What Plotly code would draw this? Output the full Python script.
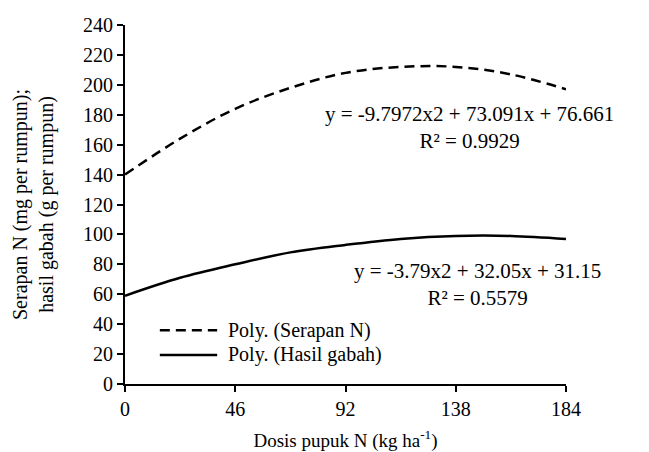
import plotly.graph_objects as go

dosis = [0, 23, 46, 69, 92, 115, 138, 161, 184]
serapan_n = [140, 164, 184, 198, 208, 212, 212, 207, 197]
hasil_gabah = [59, 71, 80, 88, 93, 97, 99, 99, 97]
x_ticks = [0, 46, 92, 138, 184]
y_ticks = list(range(0, 241, 20))

FONT = "Liberation Serif, Times New Roman, serif"
FS = 20

fig = go.Figure()
fig.add_trace(go.Scatter(x=dosis, y=serapan_n, mode="lines", line_shape="spline",
                         line=dict(color="black", width=2.5, dash="10px,6px"),
                         name="Poly. (Serapan N)", showlegend=False))
fig.add_trace(go.Scatter(x=dosis, y=hasil_gabah, mode="lines", line_shape="spline",
                         line=dict(color="black", width=2.5),
                         name="Poly. (Hasil gabah)", showlegend=False))

# manual legend
fig.add_shape(type="line", xref="paper", yref="paper", x0=0.079, x1=0.209, y0=0.150, y1=0.150,
              line=dict(color="black", width=2.5, dash="10px,6px"))
fig.add_shape(type="line", xref="paper", yref="paper", x0=0.079, x1=0.209, y0=0.081, y1=0.081,
              line=dict(color="black", width=2.5))
fig.add_annotation(xref="paper", yref="paper", x=0.229, y=0.150, text="Poly. (Serapan N)",
                   showarrow=False, xanchor="left", yanchor="middle", font=dict(family=FONT, size=FS, color="black"))
fig.add_annotation(xref="paper", yref="paper", x=0.229, y=0.081, text="Poly. (Hasil gabah)",
                   showarrow=False, xanchor="left", yanchor="middle", font=dict(family=FONT, size=FS, color="black"))

# equations
fig.add_annotation(xref="paper", yref="paper", x=(469 - 125) / 441, y=(384 - 127) / 359,
                   text="y = -9.7972x2 + 73.091x + 76.661<br>R² = 0.9929", showarrow=False,
                   xanchor="center", yanchor="middle", align="center",
                   font=dict(family=FONT, size=21, color="black"))
fig.add_annotation(xref="paper", yref="paper", x=(477 - 125) / 441, y=(384 - 284) / 359,
                   text="y = -3.79x2 + 32.05x + 31.15<br>R² = 0.5579", showarrow=False,
                   xanchor="center", yanchor="middle", align="center",
                   font=dict(family=FONT, size=21, color="black"))

fig.update_layout(
    width=641, height=444,
    margin=dict(l=117, r=83, t=17, b=68),
    paper_bgcolor="white", plot_bgcolor="white",
    font=dict(family=FONT, size=FS, color="black"),
    showlegend=False,
)
fig.update_xaxes(range=[0, 184], tickvals=x_ticks, ticktext=[str(v) for v in x_ticks],
                 showgrid=False, zeroline=False, showline=True, linecolor="black", linewidth=2,
                 ticks="outside", ticklen=6, tickwidth=2, tickcolor="black", automargin=False,
                 tickfont=dict(family=FONT, size=FS),
                 title=dict(text="Dosis pupuk N (kg ha<sup>-1</sup>)", font=dict(family=FONT, size=19), standoff=16))
fig.update_yaxes(range=[0, 240], tickvals=y_ticks,
                 showgrid=False, zeroline=False, showline=True, linecolor="black", linewidth=2,
                 ticks="outside", ticklen=6, tickwidth=2, tickcolor="black", automargin=False,
                 tickfont=dict(family=FONT, size=FS),
                 title=dict(text="Serapan N (mg per rumpun);<br>hasil gabah (g per rumpun)",
                            font=dict(family=FONT, size=FS), standoff=24))

fig.write_html("out.html")
